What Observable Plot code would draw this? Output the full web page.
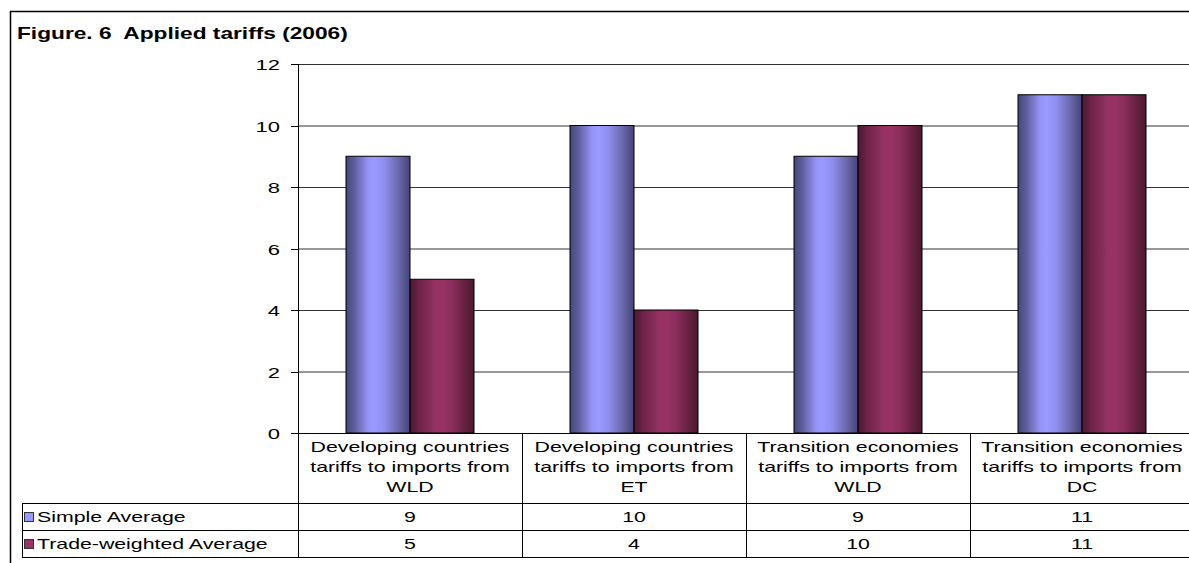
<!DOCTYPE html>
<html>
<head>
<meta charset="utf-8">
<script src="https://cdn.jsdelivr.net/npm/d3@7"></script>
<script src="https://cdn.jsdelivr.net/npm/@observablehq/plot@0.6"></script>
<style>
  html, body { margin: 0; padding: 0; background: #fff; overflow: hidden; }
  #chart { position: relative; width: 1189px; height: 563px; }
</style>
</head>
<body>
<div id="chart"></div>
<script>
// Chart content
const title = "Figure. 6  Applied tariffs (2006)";
const categories = [
  "Developing countries tariffs to imports from WLD",
  "Developing countries tariffs to imports from ET",
  "Transition economies tariffs to imports from WLD",
  "Transition economies tariffs to imports from DC"
];
const categoryLines = [
  ["Developing countries", "tariffs to imports from", "WLD"],
  ["Developing countries", "tariffs to imports from", "ET"],
  ["Transition economies", "tariffs to imports from", "WLD"],
  ["Transition economies", "tariffs to imports from", "DC"]
];
const seriesNames = ["Simple Average", "Trade-weighted Average"];
const simpleAverage = [9, 10, 9, 11];
const tradeWeighted = [5, 4, 10, 11];
const yTicks = [0, 2, 4, 6, 8, 10, 12];

// Long-format rows for the bar mark
const seriesValues = [simpleAverage, tradeWeighted];
const rows = [];
categories.forEach((c, i) => {
  seriesNames.forEach((s, j) => rows.push({category: c, series: s, value: seriesValues[j][i]}));
});

const W = 1189, H = 563;
const FONT = "Arial, 'Liberation Sans', Helvetica, sans-serif";
const STRETCH = 1.42; // the figure's lettering is set wide

const plot = Plot.plot({
  width: W,
  height: H,
  marginLeft: 296,
  marginRight: -6,
  marginTop: 64,
  marginBottom: 130,
  style: {fontFamily: FONT, fontSize: "15px", color: "#000", background: "transparent", overflow: "visible"},
  fx: {domain: categories, padding: 0, axis: null, label: null},
  x: {domain: seriesNames, paddingInner: 0, paddingOuter: 0.727, axis: null, label: null},
  y: {domain: [0, 12], axis: null, label: null},
  color: {domain: seriesNames, range: ["url(#cyl-simple)", "url(#cyl-trade)"]},
  marks: [
    Plot.ruleY(yTicks.filter(t => t > 0), {stroke: "#333", strokeWidth: 1}),
    Plot.barY(rows, {fx: "category", x: "series", y: "value", fill: "series", stroke: "#000", strokeWidth: 1})
  ]
});

const svg = d3.select(plot);

// Cylinder-style shading for the bars
svg.insert("defs", ":first-child").html(`
  <linearGradient id="cyl-simple" x1="0" x2="1" y1="0" y2="0">
    <stop offset="0" stop-color="#46467a"/>
    <stop offset="0.12" stop-color="#5c5c98"/>
    <stop offset="0.35" stop-color="#9595f8"/>
    <stop offset="0.45" stop-color="#9999ff"/>
    <stop offset="0.6" stop-color="#8e8eee"/>
    <stop offset="0.82" stop-color="#6a6aac"/>
    <stop offset="1" stop-color="#45457a"/>
  </linearGradient>
  <linearGradient id="cyl-trade" x1="0" x2="1" y1="0" y2="0">
    <stop offset="0" stop-color="#4a1830"/>
    <stop offset="0.15" stop-color="#6e2448"/>
    <stop offset="0.4" stop-color="#953262"/>
    <stop offset="0.5" stop-color="#993366"/>
    <stop offset="0.65" stop-color="#8c2f5d"/>
    <stop offset="0.85" stop-color="#66223f"/>
    <stop offset="1" stop-color="#4a182e"/>
  </linearGradient>
`);

const fx = plot.scale("fx");
const y = plot.scale("y");
const bw = fx.bandwidth;
const colStarts = categories.map(c => fx.apply(c));
const xLeft = Math.round(colStarts[0]);
const xRight = colStarts[colStarts.length - 1] + bw;
const y0 = Math.round(y.apply(0));
const yTop = y.apply(12);

// Data table layout below the axis
const tableLeft = 22;
const rowTops = [y0 + 70, y0 + 97];
const tableBottom = y0 + 124;

// Figure frame
svg.insert("rect", "defs + *")
  .attr("x", 10.5).attr("y", 11.5).attr("width", W).attr("height", H)
  .attr("fill", "none").attr("stroke", "#000").attr("stroke-width", 1.5);

const g = svg.append("g").attr("stroke", "#000").attr("stroke-width", 1).attr("fill", "none");
const line = (x1, y1, x2, y2) => g.append("line").attr("x1", x1).attr("y1", y1).attr("x2", x2).attr("y2", y2);

const tg = svg.append("g").attr("fill", "#000");
function label(x, yy, text, anchor, size = 15, weight = "normal") {
  return tg.append("text")
    .attr("transform", `translate(${x},${yy}) scale(${STRETCH},1)`)
    .style("font-family", FONT).style("font-size", size + "px").style("font-weight", weight)
    .attr("text-anchor", anchor)
    .text(text);
}

// Value axis: line, ticks and labels
line(xLeft + 0.5, yTop, xLeft + 0.5, tableBottom + 0.5);
yTicks.forEach(t => {
  const ty = Math.round(y.apply(t)) + 0.5;
  line(xLeft - 7, ty, xLeft, ty);
  label(xLeft - 18, ty + 5.5, String(t), "end", 15.5);
});

// Category axis line
line(xLeft, y0 + 0.5, xRight, y0 + 0.5);

// Column dividers and row rules of the table
colStarts.slice(1).forEach(x => line(Math.round(x) + 0.5, y0, Math.round(x) + 0.5, tableBottom + 0.5));
line(tableLeft + 0.5, rowTops[0], tableLeft + 0.5, tableBottom + 0.5);
rowTops.concat([tableBottom]).forEach(ry => line(tableLeft, ry + 0.5, xRight, ry + 0.5));

// Category headers
categoryLines.forEach((lines, i) => {
  lines.forEach((t, k) => label(colStarts[i] + bw / 2, y0 + 19 + k * 20, t, "middle"));
});

// Value rows with their series keys
const swatchFill = ["#9999ff", "#993366"];
seriesNames.forEach((s, j) => {
  const ry = rowTops[j];
  g.append("rect").attr("x", 24.5).attr("y", ry + 9.5).attr("width", 9).attr("height", 9)
    .attr("fill", swatchFill[j]).attr("stroke", "#333");
  label(37, ry + 19, s, "start");
  seriesValues[j].forEach((v, i) => label(colStarts[i] + bw / 2, ry + 19, String(v), "middle"));
});

// Title
label(17, 39, title, "start", 16, "bold");

document.getElementById("chart").appendChild(plot);
</script>
</body>
</html>
